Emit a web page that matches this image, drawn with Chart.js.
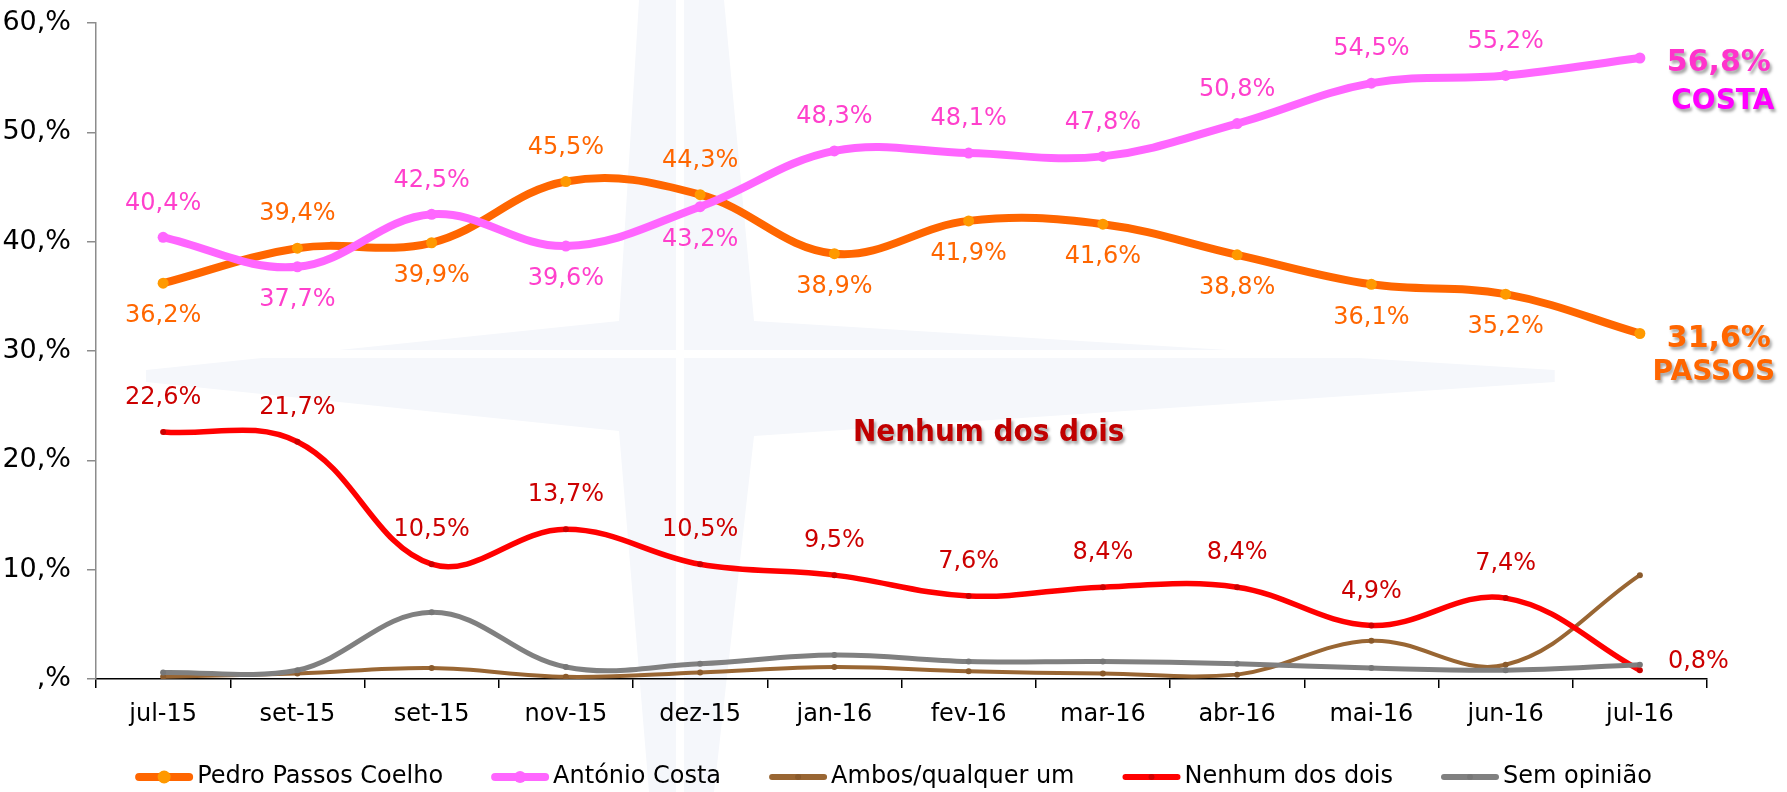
<!DOCTYPE html>
<html>
<head>
<meta charset="utf-8">
<script src="https://cdn.jsdelivr.net/npm/chart.js@4/dist/chart.umd.min.js"></script>
<style>
  html, body { margin: 0; padding: 0; background: #fff; }
  canvas { display: block; }
</style>
</head>
<body>
<canvas id="pollChart" width="1787" height="792"></canvas>
<script>
const categories = ["jul-15", "set-15", "set-15", "nov-15", "dez-15", "jan-16", "fev-16", "mar-16", "abr-16", "mai-16", "jun-16", "jul-16"];

const passos = [36.2, 39.4, 39.9, 45.5, 44.3, 38.9, 41.9, 41.6, 38.8, 36.1, 35.2, 31.6];
const costa = [40.4, 37.7, 42.5, 39.6, 43.2, 48.3, 48.1, 47.8, 50.8, 54.5, 55.2, 56.8];
const ambos = [0.2, 0.5, 1.0, 0.2, 0.6, 1.1, 0.7, 0.5, 0.4, 3.5, 1.3, 9.5];
const nenhum = [22.6, 21.7, 10.5, 13.7, 10.5, 9.5, 7.6, 8.4, 8.4, 4.9, 7.4, 0.8];
const semOpiniao = [0.6, 0.8, 6.1, 1.1, 1.4, 2.2, 1.6, 1.6, 1.4, 1.0, 0.8, 1.3];

const yTicks = [0, 10, 20, 30, 40, 50, 60];

const FONT = "DejaVu Sans";

function fmtPct(v) {
    return v.toFixed(1).replace(".", ",") + "%";
}

// faint compass star behind everything
const watermark = {
    id: "watermark",
    beforeDraw(chart) {
        const { ctx, chartArea: a, width, height } = chart;
        const cx = a.left + (a.right - a.left) * 0.365;
        const cy = a.top + (a.bottom - a.top) * 0.538;
        ctx.save();
        ctx.fillStyle = "#F5F7FB";
        ctx.beginPath();
        ctx.moveTo(cx - 45, 0);
        ctx.lineTo(cx + 40, 0);
        ctx.lineTo(cx + 70, cy - 55);
        ctx.lineTo(width * 0.87, cy - 6);
        ctx.lineTo(width * 0.87, cy + 6);
        ctx.lineTo(cx + 70, cy + 60);
        ctx.lineTo(cx + 30, height);
        ctx.lineTo(cx - 35, height);
        ctx.lineTo(cx - 65, cy + 55);
        ctx.lineTo(a.left + 50, cy + 6);
        ctx.lineTo(a.left + 50, cy - 6);
        ctx.lineTo(cx - 65, cy - 55);
        ctx.closePath();
        ctx.fill();
        ctx.strokeStyle = "#FFFFFF";
        ctx.lineWidth = 8;
        ctx.beginPath();
        ctx.moveTo(cx - 4, 0);
        ctx.lineTo(cx - 4, height);
        ctx.moveTo(a.left, cy - 22);
        ctx.lineTo(width, cy - 22);
        ctx.stroke();
        ctx.restore();
    }
};

// data labels, drawn by hand
const valueLabels = {
    id: "valueLabels",
    afterDatasetsDraw(chart) {
        const ctx = chart.ctx;
        const specs = [
            { ds: 0, color: "#FF6600", pair: 1 },
            { ds: 1, color: "#FF40CC", pair: 0 },
            { ds: 3, color: "#CC0000", pair: null }
        ];
        ctx.save();
        ctx.font = "24px '" + FONT + "'";
        ctx.textAlign = "center";
        ctx.textBaseline = "middle";
        specs.forEach(s => {
            const data = chart.data.datasets[s.ds].data;
            const meta = chart.getDatasetMeta(s.ds);
            const last = data.length - 1;
            meta.data.forEach((pt, j) => {
                if (j === last) return;
                const other = s.pair === null ? null : chart.data.datasets[s.pair].data[j];
                const above = other === null || data[j] >= other;
                ctx.fillStyle = s.color;
                ctx.fillText(fmtPct(data[j]), pt.x, above ? pt.y - 34 : pt.y + 33);
            });
        });

        // last value of "Nenhum dos dois"
        const nPt = chart.getDatasetMeta(3).data[nenhum.length - 1];
        ctx.textAlign = "left";
        ctx.fillStyle = "#CC0000";
        ctx.fillText(fmtPct(nenhum[nenhum.length - 1]), nPt.x + 28, nPt.y - 8);

        // big end labels with shadow
        ctx.shadowColor = "rgba(0,0,0,0.35)";
        ctx.shadowOffsetX = 2;
        ctx.shadowOffsetY = 3;
        ctx.shadowBlur = 3;
        ctx.textAlign = "center";
        ctx.textBaseline = "alphabetic";

        const cPt = chart.getDatasetMeta(1).data[costa.length - 1];
        ctx.fillStyle = "#FF33CC";
        ctx.font = "bold 30px '" + FONT + "'";
        ctx.fillText(fmtPct(costa[costa.length - 1]), cPt.x + 79, cPt.y + 13);
        ctx.fillStyle = "#FF00FF";
        ctx.font = "bold 28px '" + FONT + "'";
        ctx.fillText("COSTA", cPt.x + 83, cPt.y + 51);

        const pPt = chart.getDatasetMeta(0).data[passos.length - 1];
        ctx.fillStyle = "#FF6600";
        ctx.font = "bold 30px '" + FONT + "'";
        ctx.fillText(fmtPct(passos[passos.length - 1]), pPt.x + 79, pPt.y + 13);
        ctx.font = "bold 28px '" + FONT + "'";
        ctx.fillText("PASSOS", pPt.x + 74, pPt.y + 46);

        // series caption in the middle
        const xs = chart.scales.x, ys = chart.scales.y;
        ctx.fillStyle = "#C00000";
        ctx.font = "bold 31px 'DejaVu Sans Condensed', '" + FONT + "'";
        ctx.fillText("Nenhum dos dois", xs.getPixelForValue(6) + 20, ys.getPixelForValue(21.8));
        ctx.restore();
    }
};

// legend with line + marker swatches
const lineLegend = {
    id: "lineLegend",
    afterDraw(chart) {
        const ctx = chart.ctx;
        const items = chart.data.datasets.map(d => ({
            label: d.label, color: d.borderColor, dot: d.pointBackgroundColor,
            lw: d.legendLine, r: d.legendDot
        }));
        ctx.save();
        ctx.font = "24px '" + FONT + "'";
        const swatch = 58, gapText = 4, gapItem = 48;
        let total = 0;
        items.forEach((it, i) => {
            it.w = ctx.measureText(it.label).width;
            total += swatch + gapText + it.w + (i ? gapItem : 0);
        });
        let x = (chart.width - total) / 2;
        const y = 777;
        items.forEach(it => {
            ctx.strokeStyle = it.color;
            ctx.lineWidth = it.lw;
            ctx.lineCap = "round";
            ctx.beginPath();
            ctx.moveTo(x + it.lw / 2, y);
            ctx.lineTo(x + swatch - it.lw / 2, y);
            ctx.stroke();
            ctx.fillStyle = it.dot;
            ctx.beginPath();
            ctx.arc(x + swatch / 2, y, it.r, 0, Math.PI * 2);
            ctx.fill();
            ctx.fillStyle = "#000";
            ctx.textAlign = "left";
            ctx.textBaseline = "middle";
            ctx.fillText(it.label, x + swatch + gapText, y);
            x += swatch + gapText + it.w + gapItem;
        });
        ctx.restore();
    }
};

const ctx = document.getElementById("pollChart").getContext("2d");

new Chart(ctx, {
    type: "line",
    data: {
        labels: categories,
        datasets: [
            {
                label: "Pedro Passos Coelho",
                data: passos,
                borderColor: "#FF6600",
                borderWidth: 8,
                pointRadius: 5.5,
                pointBackgroundColor: "#FF9900",
                pointBorderWidth: 0,
                legendLine: 8, legendDot: 6.5,
                order: 5
            },
            {
                label: "António Costa",
                data: costa,
                borderColor: "#FF66FF",
                borderWidth: 8,
                pointRadius: 5.5,
                pointBackgroundColor: "#FF66FF",
                pointBorderWidth: 0,
                legendLine: 8, legendDot: 6,
                order: 4
            },
            {
                label: "Ambos/qualquer um",
                data: ambos,
                borderColor: "#996633",
                borderWidth: 4,
                pointRadius: 3,
                pointBackgroundColor: "#8A5A2B",
                pointBorderWidth: 0,
                legendLine: 6, legendDot: 3,
                order: 3
            },
            {
                label: "Nenhum dos dois",
                data: nenhum,
                borderColor: "#FF0000",
                borderWidth: 5.5,
                pointRadius: 3,
                pointBackgroundColor: "#CC0000",
                pointBorderWidth: 0,
                legendLine: 6, legendDot: 3,
                order: 2
            },
            {
                label: "Sem opinião",
                data: semOpiniao,
                borderColor: "#808080",
                borderWidth: 5,
                pointRadius: 3,
                pointBackgroundColor: "#777777",
                pointBorderWidth: 0,
                legendLine: 6, legendDot: 3,
                order: 1
            }
        ]
    },
    options: {
        responsive: false,
        animation: false,
        devicePixelRatio: 1,
        layout: { padding: { left: 0, top: 23, right: 80, bottom: 63 } },
        elements: { line: { tension: 0.38, fill: false } },
        plugins: {
            legend: { display: false },
            tooltip: { enabled: false }
        },
        scales: {
            x: {
                offset: true,
                afterFit: axis => { axis.height = 50; },
                grid: { offset: true, drawOnChartArea: false, drawTicks: true, tickLength: 9, color: "#000", lineWidth: 1.5 },
                border: { color: "#000", width: 1.5 },
                ticks: { font: { family: FONT, size: 24 }, color: "#000", padding: 12, maxRotation: 0, autoSkip: false }
            },
            y: {
                min: yTicks[0],
                max: yTicks[yTicks.length - 1],
                afterFit: axis => {
                    axis.width = 96;
                    axis.paddingTop = 0;
                    axis.paddingBottom = 0;
                },
                afterBuildTicks: axis => { axis.ticks = yTicks.map(v => ({ value: v })); },
                grid: { drawOnChartArea: false, drawTicks: true, tickLength: 9, color: "#8C8C8C", lineWidth: 1.5 },
                border: { color: "#8C8C8C", width: 1.5 },
                ticks: {
                    font: { family: FONT, size: 27 },
                    color: "#000",
                    padding: 16,
                    callback: v => (v === 0 ? "" : v) + ",%"
                }
            }
        }
    },
    plugins: [watermark, valueLabels, lineLegend]
});
</script>
</body>
</html>
